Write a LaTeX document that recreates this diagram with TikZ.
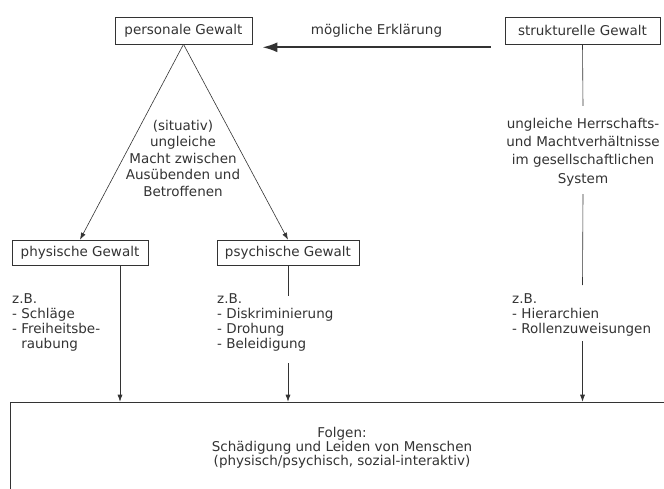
\documentclass[tikz,border=0pt]{standalone}
\usepackage{fontspec}
\setmainfont{DejaVu Sans}
\usetikzlibrary{arrows.meta,positioning}

\begin{document}
\begin{tikzpicture}[x=1pt,y=-1pt,color=black!80,font=\fontsize{13.5}{15}\selectfont]
\tikzstyle{box} = [draw,line width=0.6pt,inner xsep=6pt,minimum height=25pt]
\tikzstyle{ann} = [align=center,inner sep=0pt]
\tikzstyle{lst} = [align=left,anchor=north west,inner sep=0pt]
\tikzstyle{pfeil} = [-{Latex[length=7pt,width=5pt]},line width=0.6pt]
\tikzstyle{dick} = [-{Latex[length=15pt,width=10pt]},line width=2pt]
\useasboundingbox (0,0) rectangle (664,489);
\clip (0,0) rectangle (664,489);

%%%%%% Kopfzeile
\node[box,minimum width=137pt,minimum height=27pt] (pers) at (183.5,30.5) {personale Gewalt};
\node[box,minimum width=155pt,minimum height=27pt] (strukt) at (582.5,30.5) {strukturelle Gewalt};
\draw[dick] ([xshift=-14pt,yshift=-3pt]strukt.south west) -- node[above=6pt] (erkl) {mögliche Erklärung} ([xshift=10pt,yshift=-3pt]pers.south east);

%%%%%% personale Gewalt
\node[box,minimum width=136pt] (phys) at (80,252.5) {physische Gewalt};
\node[box,minimum width=142pt] (psych) at (288,252.5) {psychische Gewalt};
\draw[pfeil] (pers.south) -- (phys.north);
\draw[pfeil] (pers.south) -- (psych.north);
\node[ann,font=\fontsize{13.5}{16.5}\selectfont] (situ) at (183,158) {(situativ)\\ungleiche\\Macht zwischen\\Ausübenden und\\Betroffenen};

%%%%%% strukturelle Gewalt
\node[ann,font=\fontsize{13.5}{18.3}\selectfont] (sinfo) at (583,152) {ungleiche Herrschafts-\\und Machtverhältnisse\\im gesellschaftlichen\\System};

%%%%%% Beispiele
\node[lst] (physl) at (12,293) {z.B.\\- Schläge\\- Freiheitsbe-\\\phantom{- }raubung};
\node[lst] (psychl) at (217,293) {z.B.\\- Diskriminierung\\- Drohung\\- Beleidigung};
\node[lst] (struktl) at (512,293) {z.B.\\- Hierarchien\\- Rollenzuweisungen};

%%%%%% Folgen
\node[draw,line width=0.6pt,ann,minimum width=664pt,minimum height=92pt,font=\fontsize{13.5}{14}\selectfont] (folgen) at (342,448) {Folgen:\\Schädigung und Leiden von Menschen\\(physisch/psychisch, sozial-interaktiv)};

%%%%%% Linien
\coordinate (physab) at ([xshift=40pt]phys.south);
\draw[pfeil] (physab) -- (physab |- folgen.north);
\draw[line width=0.6pt] (psych.south) -- ([yshift=-3pt]psych.south |- psychl.north);
\draw[pfeil] ([yshift=-12pt]psych.south |- psychl.south) -- (psych.south |- folgen.north);
\draw[line width=0.6pt] (strukt.south) -- ([yshift=12pt]sinfo.north);
\draw[line width=0.6pt] ([yshift=-8pt]sinfo.south) -- ([yshift=8pt]strukt.south |- struktl.north);
\draw[pfeil] ([yshift=-5pt]strukt.south |- struktl.south) -- (strukt.south |- folgen.north);
\end{tikzpicture}
\end{document}
